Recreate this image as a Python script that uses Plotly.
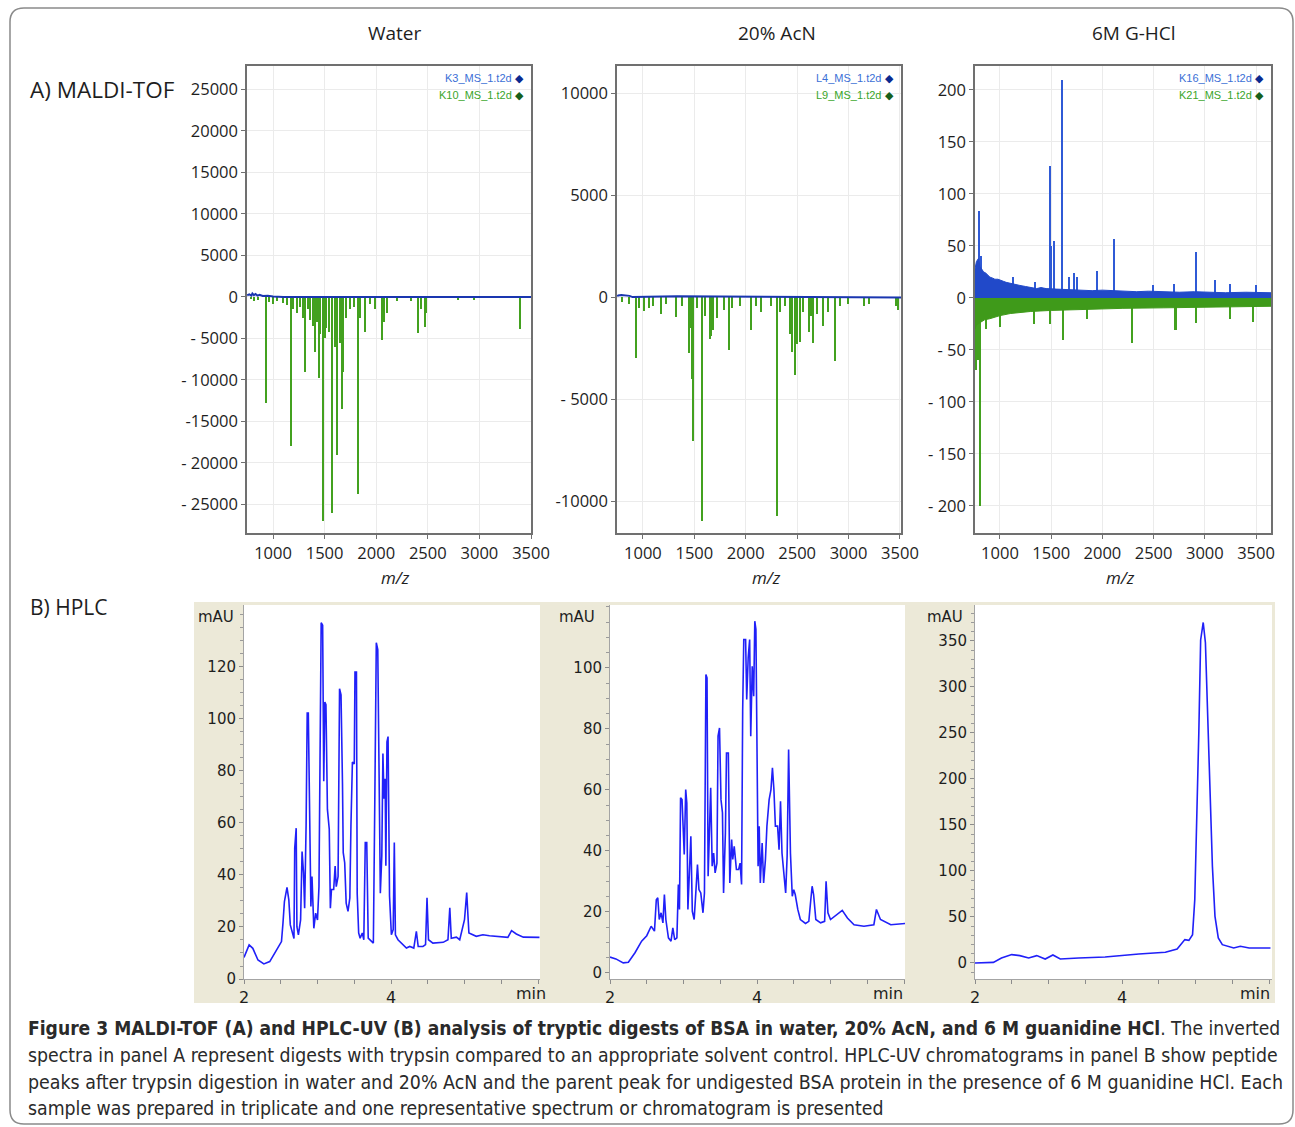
import plotly.graph_objects as go

W, H = 1295, 1127
def fx(x): return x / W
def fy(y): return 1 - y / H

# ---------------- data ----------------
panel_titles = ["Water", "20% AcN", "6M G-HCl"]
ctrl_names = ["K3_MS_1.t2d", "L4_MS_1.t2d", "K16_MS_1.t2d"]
dig_names = ["K10_MS_1.t2d", "L9_MS_1.t2d", "K21_MS_1.t2d"]
mz_ticks = [1000, 1500, 2000, 2500, 3000, 3500]

# A1 Water: control (blue) and trypsin digest (green, plotted inverted)
water_ctrl_mz = [750, 770, 790, 800, 815, 830, 850, 870, 900, 950, 1000, 1100, 3500]
water_ctrl_int = [200, 300, 150, 400, 200, 350, 150, 250, 100, 150, 50, 0, 0]
water_dig_mz = [790, 820, 860, 934, 960, 1000, 1040, 1100, 1140, 1176, 1200, 1230, 1260, 1290,
                1315, 1340, 1363, 1390, 1411, 1430, 1444, 1460, 1489, 1505, 1520, 1545, 1574,
                1600, 1625, 1648, 1670, 1685, 1710, 1750, 1790, 1828, 1845, 1890, 1940, 1990,
                2058, 2080, 2105, 2200, 2340, 2410, 2440, 2471, 2480, 2790, 2950, 3398]
water_dig_int = [300, 500, 400, 12800, 600, 900, 500, 700, 1000, 18000, 1500, 2000, 1200, 2500,
                 9000, 1500, 2800, 3500, 6600, 3000, 9800, 4500, 27000, 5000, 3800, 4200, 26000,
                 6000, 19000, 5500, 13500, 9000, 2500, 1500, 1200, 23700, 2500, 4200, 800, 1400,
                 5200, 3000, 2000, 500, 500, 4400, 1500, 3600, 2000, 400, 400, 3900]

# A2 20% AcN
acn_ctrl_mz = [750, 760, 790, 830, 870, 900, 1200, 1330, 3510]
acn_ctrl_int = [60, 100, 120, 100, 80, 20, 60, 60, 0]
acn_dig_mz = [800, 870, 935, 960, 1013, 1060, 1100, 1175, 1230, 1320, 1380, 1447, 1470, 1480,
              1492, 1530, 1576, 1610, 1650, 1665, 1680, 1720, 1790, 1835, 1870, 1950, 2049,
              2100, 2150, 2250, 2308, 2340, 2380, 2430, 2453, 2479, 2500, 2530, 2560, 2615,
              2640, 2657, 2700, 2754, 2800, 2874, 2920, 3000, 3150, 3200, 3460, 3482]
acn_dig_int = [200, 300, 2970, 500, 640, 500, 400, 800, 300, 935, 400, 2700, 1500, 4000,
               7040, 500, 10970, 900, 2030, 1900, 1600, 1000, 600, 2600, 500, 400, 1590,
               400, 700, 400, 10720, 700, 400, 1800, 2690, 3790, 2300, 2200, 700, 1700,
               900, 2240, 800, 1380, 700, 3130, 400, 300, 400, 300, 400, 600]

# A3 6M G-HCl: noise envelopes and peaks
ghcl_ctrl_env_mz = [756, 770, 790, 805, 820, 840, 860, 880, 902, 930, 950, 980, 1000, 1033, 1060,
                    1100, 1150, 1195, 1250, 1300, 1358, 1400, 1450, 1550, 1684, 1800, 1900, 2000,
                    2100, 2200, 2335, 2450, 2600, 2750, 2900, 3050, 3200, 3400, 3646]
ghcl_ctrl_env = [28, 35, 38, 30, 28, 25, 24, 22, 20, 19, 18, 18, 17, 16, 15,
                 14, 13, 12, 11, 10, 9, 10, 9, 8.5, 8, 8, 7, 7.5,
                 7, 6.5, 6, 6.5, 6, 5.5, 6, 5.5, 5, 5.5, 5]
ghcl_ctrl_mz = [798, 812, 1130, 1340, 1488, 1500, 1527, 1612, 1680, 1723, 1750, 1954, 2116,
                2500, 2700, 2920, 3100, 3250, 3500]
ghcl_ctrl_int = [84, 40, 20, 15, 127, 50, 55, 210, 20, 24, 20, 26, 57, 12, 13, 44, 17, 13, 12]
ghcl_dig_env_mz = [756, 770, 800, 850, 900, 1000, 1100, 1300, 1500, 1800, 2200, 2600, 3000, 3400, 3646]
ghcl_dig_env = [30, 26, 24, 21, 20, 17, 15, 13, 12, 11, 10, 9.5, 9, 8, 8]
ghcl_dig_mz = [772, 790, 805, 810, 870, 1000, 1330, 1488, 1618, 1853, 2292, 2716, 2914, 3250, 3468]
ghcl_dig_int = [69, 60, 200, 109, 30, 28, 25, 25, 40, 20, 43, 31, 24, 20, 23]

# B) HPLC chromatograms (time in min, absorbance in mAU)
water_t = [2.00, 2.07, 2.12, 2.19, 2.27, 2.35, 2.43, 2.51, 2.53, 2.55,
           2.585, 2.61, 2.63, 2.66, 2.68, 2.69, 2.71, 2.72, 2.74, 2.77,
           2.79, 2.81, 2.825, 2.845, 2.86, 2.875, 2.89, 2.91, 2.925, 2.95,
           2.975, 3.00, 3.02, 3.035, 3.05, 3.07, 3.085, 3.10, 3.115, 3.135,
           3.16, 3.175, 3.19, 3.22, 3.24, 3.255, 3.28, 3.30, 3.32, 3.34,
           3.35, 3.37, 3.39, 3.415, 3.44, 3.455, 3.475, 3.50, 3.51, 3.53,
           3.54, 3.56, 3.58, 3.61, 3.63, 3.65, 3.67, 3.69, 3.73, 3.76,
           3.78, 3.80, 3.82, 3.84, 3.855, 3.875, 3.89, 3.905, 3.92, 3.93,
           3.945, 3.96, 3.98, 4.005, 4.03, 4.045, 4.06, 4.095, 4.14, 4.21,
           4.255, 4.31, 4.345, 4.37, 4.435, 4.47, 4.49, 4.51, 4.57, 4.71,
           4.775, 4.80, 4.82, 4.89, 4.935, 5.00, 5.03, 5.06, 5.16, 5.25,
           5.34, 5.59, 5.64, 5.705, 5.80, 6.02]
water_mau = [8.3, 13.1, 11.8, 7.3, 5.8, 6.7, 10.5, 14.4, 21.4, 29.8,
             35.2, 30.4, 20.8, 17.6, 15.6, 50.3, 58, 20.1, 17, 22.7,
             49, 40.7, 27.2, 59.3, 102.3, 102.3, 68.3, 27.9, 39.4, 19.5,
             25.3, 22.7, 35.5, 95.3, 137, 136, 76, 106.5, 105.5, 65.2,
             57.6, 27.2, 34.4, 34.4, 43.4, 35.5, 39.4, 111.6, 109.3, 75,
             48.6, 44.7, 29.2, 26, 31.2, 58.9, 83.4, 82.7, 118, 118,
             33, 17.7, 15.7, 17.7, 15.1, 52.5, 52.5, 15.7, 14.5, 13.8,
             69.3, 129.3, 126.7, 79, 33, 47.4, 86.7, 69.3, 77, 43.5,
             91.2, 93.2, 31.9, 17, 19, 52.5, 17, 15.1, 13.8, 11.9,
             12.5, 11.9, 18.3, 12.5, 12.5, 13.2, 31.2, 15.1, 13.8, 14.1,
             15.1, 27.4, 15.7, 16.1, 15.1, 22.8, 33.2, 17.7, 16.4, 17,
             16.6, 16, 18.6, 17.3, 16.1, 16]

acn_t = [2.00, 2.08, 2.18, 2.25, 2.34, 2.43, 2.50, 2.56, 2.605, 2.63,
         2.65, 2.67, 2.695, 2.72, 2.74, 2.76, 2.795, 2.83, 2.855, 2.88,
         2.91, 2.93, 2.945, 2.96, 2.98, 2.99, 3.01, 3.03, 3.045, 3.06,
         3.08, 3.10, 3.12, 3.145, 3.17, 3.19, 3.21, 3.235, 3.265, 3.285,
         3.305, 3.32, 3.335, 3.355, 3.37, 3.39, 3.41, 3.43, 3.455, 3.47,
         3.49, 3.51, 3.53, 3.545, 3.57, 3.585, 3.61, 3.63, 3.655, 3.67,
         3.69, 3.72, 3.75, 3.77, 3.79, 3.805, 3.82, 3.845, 3.86, 3.88,
         3.90, 3.915, 3.935, 3.955, 3.97, 3.985, 4.00, 4.015, 4.03, 4.045,
         4.07, 4.09, 4.115, 4.135, 4.165, 4.19, 4.21, 4.23, 4.25, 4.28,
         4.30, 4.32, 4.34, 4.365, 4.39, 4.41, 4.43, 4.455, 4.48, 4.50,
         4.52, 4.555, 4.59, 4.66, 4.705, 4.73, 4.75, 4.77, 4.80, 4.865,
         4.92, 4.94, 4.965, 5.00, 5.09, 5.16, 5.23, 5.32, 5.455, 5.59,
         5.625, 5.68, 5.82, 6.02]
acn_mau = [5.2, 4.6, 3.3, 3.5, 6.6, 10.4, 12.2, 15.3, 13.7, 24,
           24.6, 17.5, 19.7, 16.4, 25.7, 17.5, 11.5, 10.4, 14.8, 10.9,
           11.5, 29, 20.8, 57.4, 56.8, 48, 38.8, 60.1, 55.7, 20.8,
           35, 44.8, 20.2, 17.5, 27.3, 35.5, 27.3, 26.2, 19.7, 26.2,
           97.8, 96.7, 31.7, 54.6, 60.7, 35, 39.3, 32.8, 36, 77.6,
           80.3, 56.8, 52.5, 26.2, 45.9, 72.1, 72.1, 29.5, 43.7, 37.2,
           41.5, 33.9, 33.9, 36, 29, 85.8, 109.3, 109.3, 89.6, 103.3,
           109.3, 77.6, 100.5, 90.7, 115.3, 112.6, 75.4, 35, 48.1, 29.5,
           42.6, 29.5, 37.2, 48.1, 56.8, 60.1, 67.2, 60.1, 48.1, 48.1,
           40.4, 56.3, 39.3, 31.7, 26.2, 38.3, 73.2, 39.3, 25.1, 27.3,
           25.7, 20.8, 17.5, 16.2, 16.9, 23.5, 28.4, 25.7, 17.5, 16.4,
           16.9, 30, 19.7, 17.5, 19.1, 20.5, 18, 15.8, 15.3, 15.8,
           20.8, 17.5, 15.8, 16.2]

ghcl_t = [2.00, 2.25, 2.36, 2.50, 2.61, 2.73, 2.84, 2.955, 3.06, 3.16,
          3.41, 3.77, 4.23, 4.59, 4.75, 4.855, 4.91, 4.96, 4.99, 5.02,
          5.045, 5.07, 5.105, 5.135, 5.165, 5.195, 5.23, 5.265, 5.31, 5.365,
          5.455, 5.52, 5.61, 5.73, 6.02]
ghcl_mau = [0, 0.7, 5.4, 9.1, 8, 5.4, 8, 4.3, 8.7, 4.3,
            5.4, 6.5, 9.8, 11.6, 15.2, 25.4, 24.6, 30.8, 68.8, 159,
            250, 351, 370, 348, 275, 196, 105, 50.7, 27.2, 19.9,
            18.1, 16.3, 18.1, 16.3, 16.3]

hplc_t_ticks = [2, 2.5, 3, 3.5, 4, 4.5, 5, 5.5, 6]
hplc_t_labels = ["2", "", "", "", "4", "", "", "", ""]
water_mau_ticks = [0, 20, 40, 60, 80, 100, 120]
acn_mau_ticks = [0, 20, 40, 60, 80, 100]
ghcl_mau_ticks = [0, 50, 100, 150, 200, 250, 300, 350]

# ---------------- styling ----------------
BLUE = "#2149c9"
BLUE_LINE = "#1a36b0"
GREEN = "#43a11f"
HPLC_BLUE = "#2020f8"
FRAME = "#707070"
TXT = "#1e1e1e"

fig = go.Figure()

# A1
fig.add_trace(go.Bar(x=water_dig_mz, y=[-v for v in water_dig_int], width=14,
                     marker=dict(color=GREEN, line=dict(width=0)), xaxis="x", yaxis="y"))
fig.add_trace(go.Scatter(x=water_ctrl_mz, y=water_ctrl_int, mode="lines",
                         line=dict(color=BLUE_LINE, width=2), xaxis="x", yaxis="y"))
# A2
fig.add_trace(go.Bar(x=acn_dig_mz, y=[-v for v in acn_dig_int], width=14,
                     marker=dict(color=GREEN, line=dict(width=0)), xaxis="x2", yaxis="y2"))
fig.add_trace(go.Scatter(x=acn_ctrl_mz, y=acn_ctrl_int, mode="lines",
                         line=dict(color=BLUE_LINE, width=2), xaxis="x2", yaxis="y2"))
# A3
fig.add_trace(go.Bar(x=ghcl_ctrl_mz, y=ghcl_ctrl_int, width=15,
                     marker=dict(color="#2f5ad6", line=dict(width=0)), xaxis="x3", yaxis="y3"))
fig.add_trace(go.Bar(x=ghcl_dig_mz, y=[-v for v in ghcl_dig_int], width=15,
                     marker=dict(color=GREEN, line=dict(width=0)), xaxis="x3", yaxis="y3"))
fig.add_trace(go.Scatter(x=ghcl_ctrl_env_mz, y=ghcl_ctrl_env, mode="lines", fill="tozeroy",
                         fillcolor=BLUE, line=dict(color=BLUE, width=1), xaxis="x3", yaxis="y3"))
fig.add_trace(go.Scatter(x=ghcl_dig_env_mz, y=[-v for v in ghcl_dig_env], mode="lines", fill="tozeroy",
                         fillcolor="#3f9a1a", line=dict(color="#3f9a1a", width=1), xaxis="x3", yaxis="y3"))

# B HPLC
for t, m, i in [(water_t, water_mau, 4), (acn_t, acn_mau, 5), (ghcl_t, ghcl_mau, 6)]:
    fig.add_trace(go.Scatter(x=t, y=m, mode="lines", line=dict(color=HPLC_BLUE, width=1.6),
                             xaxis=f"x{i}", yaxis=f"y{i}"))

A_TOP, A_BOT = 66, 533
B_TOP, B_BOT = 605, 979
afont = dict(family="Open Sans", size=16.5, color=TXT)
bfont = dict(family="DejaVu Sans", size=15, color=TXT)

def a_x(x0, x1, rng, anchor):
    return dict(domain=[fx(x0), fx(x1)], range=rng, anchor=anchor, tickmode="array",
                tickvals=mz_ticks, ticktext=[str(v) for v in mz_ticks], showgrid=True,
                gridcolor="#ebebeb", showline=True, mirror=True, linecolor=FRAME, linewidth=1.5,
                ticks="outside", ticklen=4, tickcolor=FRAME, tickfont=afont, zeroline=False,
                automargin=False)

def a_y(rng, vals, texts, anchor):
    return dict(domain=[fy(A_BOT), fy(A_TOP)], range=rng, anchor=anchor, tickmode="array",
                tickvals=vals, ticktext=texts, showgrid=True, gridcolor="#ebebeb",
                showline=True, mirror=True, linecolor=FRAME, linewidth=1.5,
                ticks="outside", ticklen=4, tickcolor=FRAME, tickfont=afont, zeroline=False,
                automargin=False)

def b_x(x0, x1, anchor):
    return dict(domain=[fx(x0), fx(x1)], range=[2, 2 + (x1 - x0) / 73.5], anchor=anchor,
                tickmode="array", tickvals=hplc_t_ticks, ticktext=hplc_t_labels,
                showgrid=False, zeroline=False, showline=True, linecolor="#a4a4a4", linewidth=1,
                ticks="outside", ticklen=4, tickcolor="#8c8c8c", automargin=False,
                tickfont=dict(family="DejaVu Sans", size=16, color=TXT))

def b_y(rng, vals, minor, anchor):
    return dict(domain=[fy(B_BOT), fy(B_TOP)], range=rng, anchor=anchor, tickmode="array",
                tickvals=vals, ticktext=[str(v) for v in vals], showgrid=False, zeroline=False,
                showline=True, linecolor="#a4a4a4", linewidth=1, ticks="outside", ticklen=4,
                tickcolor="#8c8c8c", automargin=False,
                minor=dict(tickmode="linear", tick0=0, dtick=minor, ticks="outside", ticklen=3,
                           tickcolor="#9a9a9a", showgrid=False),
                tickfont=bfont)

layout = dict(
    width=W, height=H, autosize=False,
    margin=dict(l=0, r=0, t=0, b=0, pad=0, autoexpand=False), paper_bgcolor="white",
    plot_bgcolor="white", showlegend=False, barmode="overlay", bargap=0,
    xaxis=a_x(247, 531, [748, 3500], "y"),
    yaxis=a_y([-28430, 27800], [25000, 20000, 15000, 10000, 5000, 0, -5000, -10000, -15000, -20000, -25000],
              ["25000", "20000", "15000", "10000", "5000", "0", "- 5000", "- 10000", "-15000", "- 20000", "- 25000"], "x"),
    xaxis2=a_x(617, 901, [748, 3510], "y2"),
    yaxis2=a_y([-11554, 11357], [10000, 5000, 0, -5000, -10000], ["10000", "5000", "0", "- 5000", "-10000"], "x2"),
    xaxis3=a_x(975, 1271, [756, 3646], "y3"),
    yaxis3=a_y([-226, 223], [200, 150, 100, 50, 0, -50, -100, -150, -200],
               ["200", "150", "100", "50", "0", "- 50", "- 100", "- 150", "- 200"], "x3"),
    xaxis4=b_x(244, 540, "y4"),
    yaxis4=b_y([0, 143.8], water_mau_ticks, 5, "x4"),
    xaxis5=b_x(610, 905, "y5"),
    yaxis5=b_y([-2, 120.6], acn_mau_ticks, 5, "x5"),
    xaxis6=b_x(975, 1272, "y6"),
    yaxis6=b_y([-17.4, 389], ghcl_mau_ticks, 10, "x6"),
)
fig.update_layout(**layout)

# shapes: outer rounded border, beige HPLC background, white plot areas
def P(x, y): return f"{fx(x):.6f},{fy(y):.6f}"
x0, y0, x1, y1, r = 10, 8, 1293, 1124, 14
border = (f"M {P(x0 + r, y0)} L {P(x1 - r, y0)} Q {P(x1, y0)} {P(x1, y0 + r)} "
          f"L {P(x1, y1 - r)} Q {P(x1, y1)} {P(x1 - r, y1)} L {P(x0 + r, y1)} "
          f"Q {P(x0, y1)} {P(x0, y1 - r)} L {P(x0, y0 + r)} Q {P(x0, y0)} {P(x0 + r, y0)} Z")
shapes = [dict(type="path", path=border, xref="paper", yref="paper",
               line=dict(color="#8a8a8a", width=1.5), layer="below"),
          dict(type="rect", xref="paper", yref="paper", x0=fx(194), x1=fx(1275), y0=fy(1003), y1=fy(602),
               fillcolor="#ece9d8", line=dict(width=0), layer="below")]
for a, b in [(244, 540), (610, 905), (975, 1272)]:
    shapes.append(dict(type="rect", xref="paper", yref="paper", x0=fx(a), x1=fx(b), y0=fy(B_BOT), y1=fy(B_TOP),
                       fillcolor="white", line=dict(width=0), layer="below"))
fig.update_layout(shapes=shapes)

ann = []
def text(x, y, s, size, xanchor="center", family="Open Sans", color=TXT):
    ann.append(dict(x=fx(x), y=fy(y), xref="paper", yref="paper", text=s, showarrow=False,
                    xanchor=xanchor, yanchor="middle", font=dict(family=family, size=size, color=color)))

for cx, t in zip([395, 777, 1134], panel_titles):
    text(cx, 33, t, 19)
for cx in [395, 766, 1120]:
    text(cx, 577, "<i>m/z</i>", 17)
text(28, 90, "A) MALDI-TOF", 22.5, "left")
text(28, 607, "B) HPLC", 21, "left")

for rx, cn, dn in zip([526, 896, 1266], ctrl_names, dig_names):
    text(rx, 78, f"{cn} <span style='color:#0b2a8f'>◆</span>", 11, "right", "Liberation Sans", "#3b6fd6")
    text(rx, 95, f"{dn} <span style='color:#16601a'>◆</span>", 11, "right", "Liberation Sans", "#3aa52a")

for cx in [216, 577, 945]:
    text(cx, 617, "mAU", 15, "center", "DejaVu Sans")
for cx in [531, 888, 1255]:
    text(cx, 993, "min", 16, "center", "DejaVu Sans")

caption_lines = [
    "<b>Figure 3 MALDI-TOF (A) and HPLC-UV (B) analysis of tryptic digests of BSA in water, 20% AcN, and 6 M guanidine HCl</b>. The inverted",
    "spectra in panel A represent digests with trypsin compared to an appropriate solvent control. HPLC-UV chromatograms in panel B show peptide",
    "peaks after trypsin digestion in water and 20% AcN and the parent peak for undigested BSA protein in the presence of 6 M guanidine HCl. Each",
    "sample was prepared in triplicate and one representative spectrum or chromatogram is presented",
]
caption_sizes = [19.1, 19.3, 19.4, 19.3]
for yy, line, sz in zip([1028, 1055, 1082, 1108], caption_lines, caption_sizes):
    text(26, yy, line, sz, "left", "Liberation Sans Narrow, DejaVu Sans Condensed, sans-serif", "#2a2a2a")

fig.update_layout(annotations=ann)
fig.write_html("out.html", config={"displayModeBar": False},
               post_script="document.body.style.margin='0';document.body.style.padding='0';"
                           "document.body.style.overflow='hidden';")
